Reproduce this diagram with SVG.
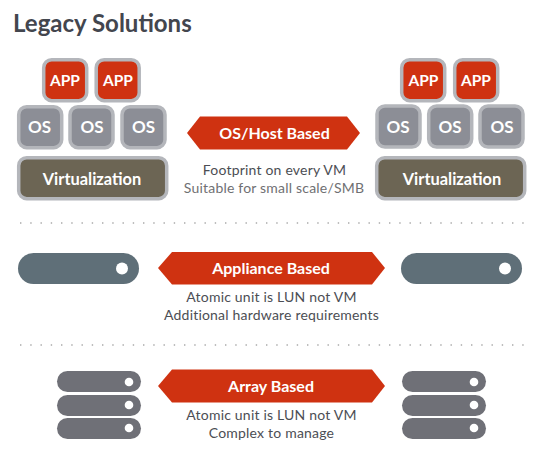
<svg xmlns="http://www.w3.org/2000/svg" width="540" height="460" viewBox="0 0 540 460">
<style>
text{font-family:"Lato","Open Sans","Liberation Sans",sans-serif;text-anchor:middle}
.title{font-size:24px;font-weight:700;fill:#43464e;text-anchor:start}
.w{font-weight:700;fill:#fff;font-size:16px}
.ap{font-size:15.500px}
.os{font-size:17px}
.v{font-size:16.400px}
.d{font-size:14px;fill:#4c4e54;letter-spacing:.2px}
.s{fill:#6f7073}
.app{fill:#cf3211;stroke:#b4b6bb;stroke-width:3.5}
.osb{fill:#8c8e96;stroke:#b4b6bb;stroke-width:3.5}
.virt{fill:#6c6554;stroke:#b4b6bb;stroke-width:3.5}
.arrow{fill:#cf3211}
.pill{fill:#5f6f78}
.srv{fill:#6f7077}
.dot{fill:#fff}
.sep{stroke:#a9a9a9;stroke-width:1.4;stroke-dasharray:1.4 8.85;fill:none}
</style>
<rect width="540" height="460" fill="#fff"/>
<text class="title" x="13" y="32">Legacy Solutions</text>
<g id="left-stack">
<g id="app-l1"><rect class="app" x="43.7" y="59.7" width="43" height="41" rx="8"/><text class="w ap" x="65" y="86">APP</text></g>
<g id="app-l2"><rect class="app" x="96.2" y="59.7" width="43" height="41" rx="8"/><text class="w ap" x="118" y="86">APP</text></g>
<g id="os-l1"><rect class="osb" x="18.7" y="106.7" width="43" height="41" rx="8"/><text class="w os" x="39.500" y="133">OS</text></g>
<g id="os-l2"><rect class="osb" x="70" y="106.7" width="43" height="41" rx="8"/><text class="w os" x="92" y="133">OS</text></g>
<g id="os-l3"><rect class="osb" x="122" y="106.7" width="43" height="41" rx="8"/><text class="w os" x="143.500" y="133">OS</text></g>
<g id="virt-l"><rect class="virt" x="18.7" y="157.7" width="148" height="41" rx="8"/><text class="w v" x="92" y="185">Virtualization</text></g>
</g>
<g id="right-stack">
<g id="app-r1"><rect class="app" x="401.7" y="59.7" width="43" height="41" rx="8"/><text class="w ap" x="423.5" y="86">APP</text></g>
<g id="app-r2"><rect class="app" x="454.7" y="59.7" width="43" height="41" rx="8"/><text class="w ap" x="476" y="86">APP</text></g>
<g id="os-r1"><rect class="osb" x="377" y="106" width="43" height="41" rx="8"/><text class="w os" x="398" y="133">OS</text></g>
<g id="os-r2"><rect class="osb" x="428.7" y="106" width="43" height="41" rx="8"/><text class="w os" x="450" y="133">OS</text></g>
<g id="os-r3"><rect class="osb" x="480" y="106" width="43" height="41" rx="8"/><text class="w os" x="502" y="133">OS</text></g>
<g id="virt-r"><rect class="virt" x="376.7" y="157.7" width="148" height="41" rx="8"/><text class="w v" x="452" y="185">Virtualization</text></g>
</g>
<g id="os-host">
<polygon class="arrow" points="187,133 200,116.5 347,116.5 360,133 347,149.5 200,149.5"/>
<text class="w" x="274.500" y="139">OS/Host Based</text>
<text class="d" x="274.500" y="175">Footprint on every VM</text>
<text class="d s" x="274" y="193">Suitable for small scale/SMB</text>
</g>
<g id="appliance">
<rect class="pill" x="18" y="253" width="121" height="31" rx="15.5"/><circle class="dot" cx="122" cy="268.5" r="6"/>
<rect class="pill" x="401" y="253" width="121" height="31" rx="15.5"/><circle class="dot" cx="505" cy="268.5" r="6"/>
<polygon class="arrow" points="158,268 172,252 372,252 385,268 372,284.500 172,284.500"/>
<text class="w" x="271" y="274">Appliance Based</text>
<text class="d" x="271.500" y="302">Atomic unit is LUN not VM</text>
<text class="d" x="271.500" y="320">Additional hardware requirements</text>
</g>
<g id="array">
<rect class="srv" x="57" y="371" width="84" height="21" rx="10.500"/><circle class="dot" cx="129" cy="382" r="4.300"/>
<rect class="srv" x="57" y="395" width="84" height="21" rx="10.500"/><circle class="dot" cx="129" cy="405" r="4.300"/>
<rect class="srv" x="57" y="418" width="84" height="21" rx="10.500"/><circle class="dot" cx="129" cy="428" r="4.300"/>
<rect class="srv" x="402" y="371" width="84" height="21" rx="10.500"/><circle class="dot" cx="474" cy="382" r="4.300"/>
<rect class="srv" x="402" y="395" width="84" height="21" rx="10.500"/><circle class="dot" cx="474" cy="405" r="4.300"/>
<rect class="srv" x="402" y="418" width="84" height="21" rx="10.500"/><circle class="dot" cx="474" cy="428" r="4.300"/>
<polygon class="arrow" points="158,386 172,369.500 372,369.500 385,386 372,402.500 172,402.500"/>
<text class="w" x="271" y="392">Array Based</text>
<text class="d" x="271.500" y="420">Atomic unit is LUN not VM</text>
<text class="d" x="271.500" y="438">Complex to manage</text>
</g>
<g id="connectors">
<line class="sep" x1="20" y1="223" x2="524" y2="223"/>
<line class="sep" x1="20" y1="345" x2="524" y2="345"/>
</g>
</svg>
